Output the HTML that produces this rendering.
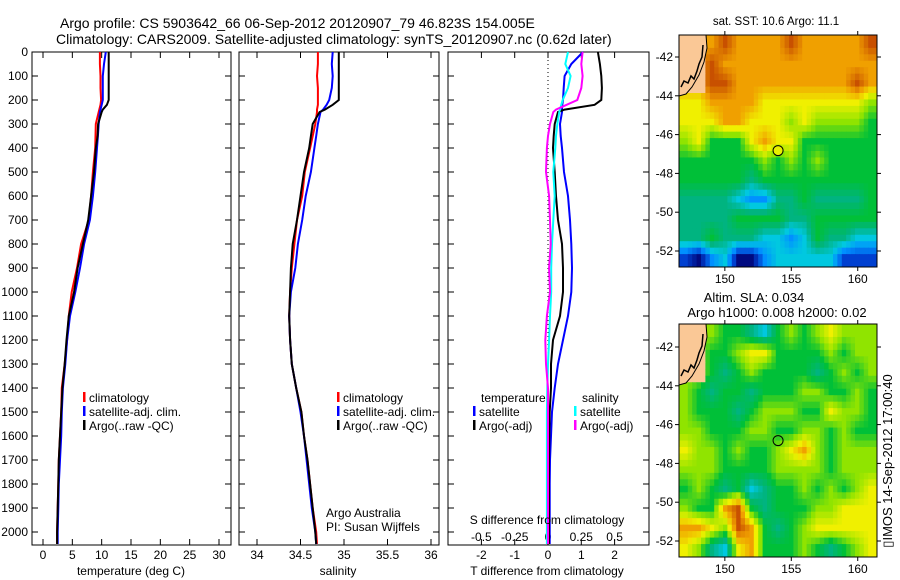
<!DOCTYPE html>
<html><head><meta charset="utf-8">
<style>
html,body{margin:0;padding:0;background:#fff;}
svg{display:block;font-family:"Liberation Sans",sans-serif;}
text{font-size:12px;fill:#000;}
</style></head>
<body>
<svg id="chart" width="900" height="580" viewBox="0 0 900 580" xmlns="http://www.w3.org/2000/svg">
<rect width="900" height="580" fill="#fff"/>
<text x="60" y="28" style="font-size:14px">Argo profile: CS 5903642_66 06-Sep-2012 20120907_79 46.823S 154.005E</text>
<text x="56" y="44" style="font-size:14px">Climatology: CARS2009. Satellite-adjusted climatology: synTS_20120907.nc (0.62d later)</text>
<g id="g1"></g>
<g id="g2"></g>
<g id="g3"></g>
<g id="m1"></g>
<g id="m2"></g>
<text x="776" y="25" text-anchor="middle" style="font-size:11.5px">sat. SST: 10.6 Argo: 11.1</text>
<text x="754" y="302" text-anchor="middle" style="font-size:13px">Altim. SLA: 0.034</text>
<text x="777" y="317" text-anchor="middle" style="font-size:13px">Argo h1000: 0.008 h2000: 0.02</text>
<text transform="translate(892,461) rotate(-90)" text-anchor="middle" style="font-size:13px">▯IMOS 14-Sep-2012 17:00:40</text>
</svg>
<script>
// ---------- data ----------
const depths = [0,50,100,150,200,220,240,250,300,350,400,500,600,700,800,900,1000,1100,1200,1300,1400,1500,1600,1700,1800,1900,2000,2050];
const tempClim = [9.7,9.7,9.8,9.8,9.9,9.8,9.6,9.5,9.0,8.95,8.9,8.5,8.2,7.8,6.5,5.8,4.9,4.4,4.1,3.7,3.2,3.1,2.9,2.7,2.6,2.5,2.4,2.4];
const tempSat = [10.7,10.4,10.2,10.2,10.2,10.0,9.8,9.7,9.5,9.35,9.2,8.9,8.5,8.0,7.0,6.3,5.5,4.6,4.1,3.8,3.4,3.2,3.1,2.9,2.7,2.6,2.5,2.5];
const tempArgo = [11.2,11.2,11.2,11.2,11.2,10.9,10.2,10.0,9.4,9.3,9.0,8.7,8.2,7.7,6.8,5.9,5.3,4.4,4.0,3.7,3.3,3.1,2.9,2.7,2.6,2.5,2.4,2.4];
const salClim = [34.70,34.70,34.69,34.70,34.70,34.70,34.69,34.69,34.67,34.64,34.61,34.55,34.52,34.46,34.43,34.40,34.38,34.37,34.38,34.40,34.45,34.51,34.54,34.58,34.61,34.64,34.68,34.69];
const salSat = [34.87,34.86,34.87,34.86,34.83,34.80,34.76,34.73,34.70,34.68,34.66,34.62,34.56,34.52,34.47,34.44,34.39,34.37,34.38,34.40,34.45,34.50,34.54,34.57,34.60,34.63,34.67,34.68];
const salArgo = [34.94,34.94,34.94,34.94,34.94,34.87,34.78,34.72,34.64,34.62,34.60,34.54,34.50,34.46,34.41,34.39,34.38,34.37,34.38,34.40,34.45,34.51,34.54,34.58,34.61,34.64,34.67,34.68];
const dTSat = [1.05,0.7,0.5,0.47,0.45,0.43,0.42,0.42,0.36,0.38,0.42,0.48,0.6,0.66,0.7,0.72,0.7,0.6,0.45,0.3,0.2,0.12,0.09,0.06,0.05,0.05,0.05,0.05];
const dTArgo = [1.5,1.56,1.6,1.62,1.6,1.4,0.5,0.3,0.2,0.17,0.15,0.2,0.24,0.3,0.42,0.45,0.45,0.36,0.15,0.09,0.09,0.05,0.04,0.03,0.03,0.03,0.03,0.03];
const dSSat = [0.15,0.13,0.17,0.15,0.11,0.1,0.09,0.085,0.07,0.06,0.055,0.04,0.05,0.04,0.03,0.024,0.024,0.015,0.008,0.0,-0.005,-0.008,-0.008,-0.008,-0.008,-0.008,-0.008,-0.008];
const dSArgo = [0.26,0.25,0.26,0.25,0.22,0.14,0.06,0.04,0.015,0.0,-0.008,-0.015,0.008,0.015,0.02,0.008,0.015,-0.008,-0.02,-0.015,0.0,0.0,0.0,0.0,0.0,0.0,0.0,0.0];
const depthTicks = [0,100,200,300,400,500,600,700,800,900,1000,1100,1200,1300,1400,1500,1600,1700,1800,1900,2000];
const tempTicks = [0,5,10,15,20,25,30];
const salTicks = [34,34.5,35,35.5,36];
const dTTicks = [-2,-1,0,1,2];
const dSTicks = [-0.5,-0.25,0,0.25,0.5];
const lonTicks = [150,155,160];
const latTicks = [-42,-44,-46,-48,-50,-52];
// map grids: 0 navy .. 9 dark orange, -1 land
const sstGrid = [
[-1,-1,8,9,8,8,8,8,9,8,8,8,8,8,9],
[-1,-1,9,8,8,8,8,8,8,8,8,8,8,8,8],
[-1,-1,9,9,8,8,8,8,8,8,8,8,8,9,8],
[7,7,8,8,8,8,7,7,7,7,7,7,7,7,6],
[7,7,7,8,8,7,7,7,6,7,6,6,6,6,5],
[6,7,5,5,5,7,8,7,7,5,5,5,5,5,5],
[5,5,5,5,5,5,6,5,6,5,6,5,5,5,5],
[5,5,5,5,5,4,5,5,5,5,5,5,5,5,5],
[4,4,4,4,3,2,2,4,4,5,4,4,4,4,5],
[4,4,4,4,5,5,5,5,4,4,5,5,5,5,5],
[4,4,5,4,4,4,3,3,2,3,5,4,4,3,3],
[1,0,2,3,0,0,2,3,3,3,3,3,1,1,1]];
const slaGrid = [
[-1,-1,6,5,5,4,3,5,6,5,6,7,6,6,6],
[-1,-1,5,5,6,7,7,5,5,5,5,6,5,6,6],
[-1,-1,5,4,5,6,5,5,5,5,4,5,6,5,6],
[6,5,4,5,5,4,5,5,5,6,6,5,5,6,5],
[6,5,5,5,4,5,6,6,6,5,5,7,6,6,5],
[6,6,5,5,5,6,6,5,5,6,6,5,6,5,5],
[7,6,6,5,6,5,5,6,7,8,6,5,6,6,6],
[6,6,6,5,5,5,5,6,6,6,6,5,6,6,6],
[5,6,5,4,5,3,4,5,5,6,5,6,5,6,7],
[6,5,5,8,9,5,4,5,5,5,6,6,7,7,7],
[8,8,7,6,9,8,5,4,5,6,7,7,7,7,7],
[7,6,4,3,7,8,5,5,5,6,5,4,5,6,7]];
const argoLon = 154.005, argoLat = -46.823;
const palette = [[0,10,128],[0,64,208],[0,144,255],[0,200,224],[0,180,128],[0,192,56],[144,228,0],[240,240,0],[240,160,0],[200,80,0]];

// ---------- helpers ----------
const NS = 'http://www.w3.org/2000/svg';
function mk(tag, attrs, parent){ const e=document.createElementNS(NS,tag); for(const k in attrs) e.setAttribute(k,attrs[k]); parent.appendChild(e); return e; }
const yTop=52, yBot=545;
const yD = d => yTop + d*0.24;
function linear(d0,d1,r0,r1){ return v => r0 + (v-d0)*(r1-r0)/(d1-d0); }
const xT = linear(0,30,43,219);
const xS = linear(34,36,257,431);
const xdT = linear(0,1,548,581.3);
const xdS = linear(0,0.25,548,581.3);

function frame(g,x0,x1,xticks,xs,leftLabels){
  const r=mk('rect',{x:x0,y:yTop,width:x1-x0,height:yBot-yTop,fill:'none',stroke:'#000','stroke-width':1},g);
   
  depthTicks.forEach(d=>{
    const y=yD(d);
    mk('line',{x1:x0,x2:x0+6,y1:y,y2:y,stroke:'#000'},g);
    mk('line',{x1:x1-6,x2:x1,y1:y,y2:y,stroke:'#000'},g);
    if(leftLabels){ const t=mk('text',{x:x0-4,y:y+4,'text-anchor':'end'},g); t.textContent=d;
        }
  });
  xticks.forEach(v=>{ const x=xs(v);
    mk('line',{x1:x,x2:x,y1:yTop,y2:yTop+6,stroke:'#000'},g);
    mk('line',{x1:x,x2:x,y1:yBot-6,y2:yBot,stroke:'#000'},g);
  });
}
function tickLabels(g,ticks,xs,y,name){
  ticks.forEach(v=>{ const t=mk('text',{x:xs(v),y:y,'text-anchor':'middle'},g); t.textContent=v;
      });
}
function line(g,vals,xs,color,name,w){
  let d='';
  vals.forEach((v,i)=>{ d+=(i?'L':'M')+xs(v).toFixed(1)+','+yD(depths[i]).toFixed(1); });
  const p=mk('path',{d:d,fill:'none',stroke:color,'stroke-width':w||2},g);
   
}
function legend(g,x,y,color,label,name){
  mk('rect',{x:x,y:y-6,width:2.5,height:10,fill:color},g);
  const t=mk('text',{x:x+6,y:y+4},g); t.textContent=label;
   
}

// ---------- panel 1 ----------
const g1=document.getElementById('g1');
frame(g1,32,231,tempTicks,xT,true);
tickLabels(g1,tempTicks,xT,559,'temperature-tick-label');
line(g1,tempClim,xT,'#f00','temperature-climatology-line');
line(g1,tempSat,xT,'#00f','temperature-satellite-line');
line(g1,tempArgo,xT,'#000','temperature-argo-line');
let t=mk('text',{x:131,y:575,'text-anchor':'middle'},g1); t.textContent='temperature (deg C)';
 
legend(g1,83,398,'#f00','climatology','legend-climatology');
legend(g1,83,412,'#00f','satellite-adj. clim.','legend-satellite');
legend(g1,83,426,'#000','Argo(..raw -QC)','legend-argo');

// ---------- panel 2 ----------
const g2=document.getElementById('g2');
frame(g2,239,439,salTicks,xS,false);
tickLabels(g2,salTicks,xS,559,'salinity-tick-label');
line(g2,salClim,xS,'#f00','salinity-climatology-line');
line(g2,salSat,xS,'#00f','salinity-satellite-line');
line(g2,salArgo,xS,'#000','salinity-argo-line');
t=mk('text',{x:338,y:575,'text-anchor':'middle'},g2); t.textContent='salinity';
 
legend(g2,337,398,'#f00','climatology','legend-climatology');
legend(g2,337,412,'#00f','satellite-adj. clim.','legend-satellite');
legend(g2,337,426,'#000','Argo(..raw -QC)','legend-argo');
t=mk('text',{x:326,y:517},g2); t.textContent='Argo Australia';
 
t=mk('text',{x:326,y:531},g2); t.textContent='PI: Susan Wijffels';
 

// ---------- panel 3 ----------
const g3=document.getElementById('g3');
frame(g3,448,649,dTTicks,xdT,false);
mk('line',{x1:548,x2:548,y1:yTop,y2:yBot,stroke:'#000','stroke-dasharray':'1,3'},g3);
tickLabels(g3,dTTicks,xdT,559,'t-diff-tick-label');
tickLabels(g3,dSTicks,xdS,541,'s-diff-tick-label');
line(g3,dTSat,xdT,'#00f','t-diff-satellite-line');
line(g3,dTArgo,xdT,'#000','t-diff-argo-line');
line(g3,dSSat,xdS,'#0ff','s-diff-satellite-line');
line(g3,dSArgo,xdS,'#f0f','s-diff-argo-line');
t=mk('text',{x:547,y:524,'text-anchor':'middle'},g3); t.textContent='S difference from climatology';
 
t=mk('text',{x:547,y:575,'text-anchor':'middle'},g3); t.textContent='T difference from climatology';
 
t=mk('text',{x:481,y:402},g3); t.textContent='temperature';
 
t=mk('text',{x:582,y:402},g3); t.textContent='salinity';
 
legend(g3,473,412,'#00f','satellite','legend-t-satellite');
legend(g3,473,426,'#000','Argo(-adj)','legend-t-argo');
legend(g3,574,412,'#0ff','satellite','legend-s-satellite');
legend(g3,574,426,'#f0f','Argo(-adj)','legend-s-argo');

// ---------- maps ----------
function colorOf(v){
  v=Math.max(0,Math.min(9,v)); const i=Math.min(8,Math.floor(v)), f=v-i;
  const a=palette[i], b=palette[i+1];
  return 'rgb('+a.map((c,k)=>Math.round(c+(b[k]-c)*f)).join(',')+')';
}
function drawMap(g,grid,top,bot,yLat42,name,landFill){
  const x0=679,x1=877,lon0=146.55,lon1=161.45;
  const xL=linear(lon0,lon1,x0,x1);
  const yL=v=>yLat42+(-42-v)*19.4;
  const rows=grid.length, cols=grid[0].length;
  const cw=(x1-x0)/cols, ch=(bot-top)/rows;
  const val=(r,c)=>{ r=Math.max(0,Math.min(rows-1,r)); c=Math.max(0,Math.min(cols-1,c)); const v=grid[r][c]; return v<0?landFill:v; };
  const S=3;
  grid.forEach((row,r)=>row.forEach((v,c)=>{
    for(let i=0;i<S;i++)for(let j=0;j<S;j++){
      let fill;
      if(v<0) fill='#fac896';
      else {
        const fr=r+(i+0.5)/S-0.5, fc=c+(j+0.5)/S-0.5;
        const r0=Math.floor(fr), c0=Math.floor(fc), ar=fr-r0, ac=fc-c0;
        const iv=val(r0,c0)*(1-ar)*(1-ac)+val(r0,c0+1)*(1-ar)*ac+val(r0+1,c0)*ar*(1-ac)+val(r0+1,c0+1)*ar*ac;
        fill=colorOf(iv);
      }
      const cell=mk('rect',{x:(x0+c*cw+j*cw/S).toFixed(2),y:(top+r*ch+i*ch/S).toFixed(2),width:(cw/S+0.5).toFixed(2),height:(ch/S+0.5).toFixed(2),fill:fill},g);
       
    }
  }));
  const land=mk('path',{d:`M${x0},${top} L706,${top} L707,${top+13} L704,${top+27} L699,${top+40} L692,${top+52} L686,${top+59} L${x0},${top+61} Z`,fill:'#fac896',stroke:'#000','stroke-width':1},g);
   
  mk('path',{d:`M${x0+2},${top+52} L684,${top+46} L688,${top+48} L691,${top+41} L694,${top+44} L697,${top+36} L699,${top+29} L702,${top+22} L703,${top+10}`,fill:'none',stroke:'#000','stroke-width':1.5},g);
  mk('rect',{x:x0,y:top,width:x1-x0,height:bot-top,fill:'none',stroke:'#000'},g);
  lonTicks.forEach(v=>{ const x=xL(v);
    mk('line',{x1:x,x2:x,y1:top-4,y2:top,stroke:'#000'},g);
    mk('line',{x1:x,x2:x,y1:bot,y2:bot+4,stroke:'#000'},g);
    const tt=mk('text',{x:x,y:bot+16,'text-anchor':'middle'},g); tt.textContent=v;
     
  });
  latTicks.forEach(v=>{ const y=yL(v);
    mk('line',{x1:x0-4,x2:x0,y1:y,y2:y,stroke:'#000'},g);
    mk('line',{x1:x1,x2:x1+4,y1:y,y2:y,stroke:'#000'},g);
    const tt=mk('text',{x:x0-6,y:y+4,'text-anchor':'end'},g); tt.textContent=v;
     
  });
  const c=mk('circle',{cx:xL(argoLon),cy:yL(argoLat),r:5,fill:name==='sst'?'#e8f000':'none',stroke:'#000'},g);
   
}
drawMap(document.getElementById('m1'),sstGrid,35,267,57,'sst',8);
drawMap(document.getElementById('m2'),slaGrid,324,557,347,'sla',6);
</script>
</body></html>
